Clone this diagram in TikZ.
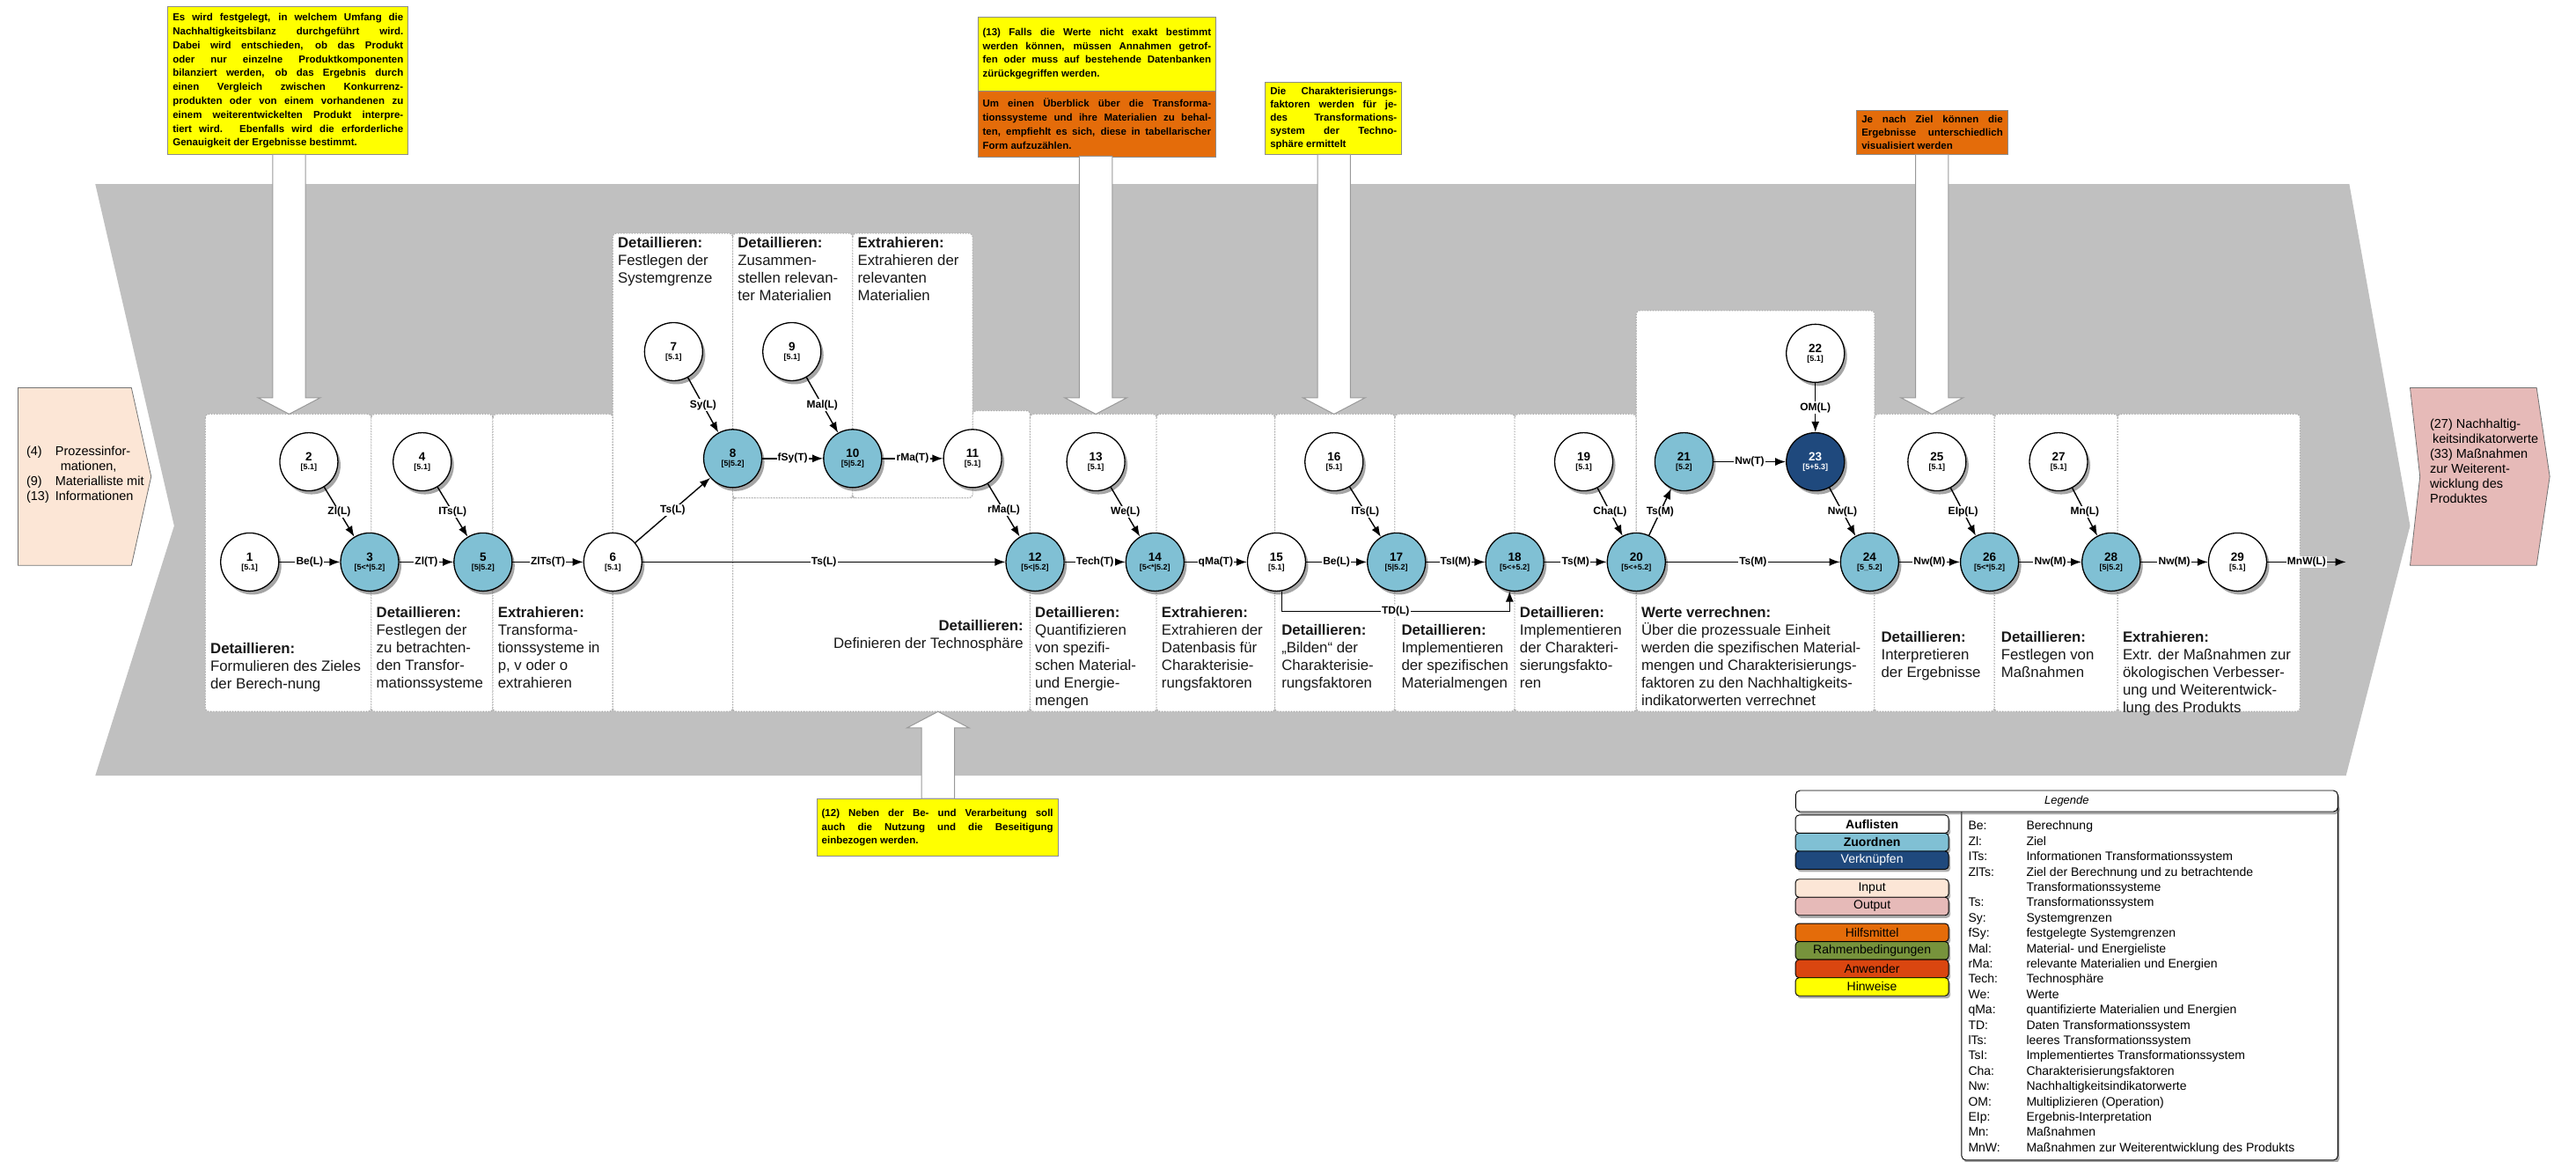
\documentclass[tikz,border=0pt]{standalone}
\usepackage{fontspec}
\setmainfont{Liberation Sans}
\usetikzlibrary{shadows,arrows.meta,calc}
\definecolor{lblue}{RGB}{128,192,212}
\definecolor{dblue}{RGB}{31,73,125}
\definecolor{peach}{RGB}{252,230,214}
\definecolor{pinkout}{RGB}{230,186,184}
\definecolor{orng}{RGB}{228,108,10}
\definecolor{grn}{RGB}{119,147,60}
\definecolor{redor}{RGB}{218,70,16}
\definecolor{yel}{RGB}{255,255,0}
\definecolor{band}{RGB}{192,192,192}
\newcommand{\nd}[2]{#1\\[-3pt]{\fontsize{9}{9}\selectfont #2}}
\begin{document}
\begin{tikzpicture}[x=1.8667pt,y=-1.8667pt,
  wn/.style={circle,draw=black,line width=1.3pt,fill=white,minimum size=66pt,inner sep=0pt,align=center,
    drop shadow={shadow xshift=3pt,shadow yshift=-4pt,fill=black!70},
    font=\fontsize{13.5}{13}\selectfont\bfseries},
  bn/.style={wn,fill=lblue},
  dn/.style={wn,fill=dblue,text=white},
  lbl/.style={fill=white,inner sep=1.2pt,font=\fontsize{12}{12}\selectfont\bfseries},
  arr/.style={-{Latex[length=12pt,width=9pt]},line width=1.4pt},
  col/.style={draw=black!35,dotted,line width=1.1pt,fill=white,rounded corners=4pt},
  desc/.style={anchor=north west,align=left,inner sep=0pt,font=\fontsize{16.8}{20}\selectfont,text=black!90},
  note/.style={draw=black!45,line width=0.8pt,inner xsep=5.5pt,inner ysep=3pt,align=justify,anchor=north west,
    font=\fontsize{11.5}{15.8}\selectfont\bfseries,execute at begin node={\tolerance=10000\hyphenpenalty=10000}},
  warr/.style={fill=white,draw=black!40,line width=1pt},
  btn/.style={draw=black,line width=0.9pt,rounded corners=4pt,minimum width=174pt,minimum height=20.5pt,inner sep=0pt,
    font=\fontsize{14}{14}\selectfont,drop shadow={shadow xshift=2pt,shadow yshift=-3pt,fill=black!65}},
]
\useasboundingbox (0,0) rectangle (1568,707);

% grey process band
\fill[band] (58,112) -- (1430,112) -- (1467,320) -- (1428,472) -- (58,472) -- (106,320) -- cycle;

% input / output
\draw[fill=peach,draw=black!55,line width=0.8pt] (11,236) -- (80,236) -- (92,290) -- (80,344) -- (11,344) -- cycle;
\node[anchor=north west,inner sep=0pt,font=\fontsize{14.5}{17}\selectfont,align=left] (intext) at (16,271)
 {\begin{tabular}{@{}l@{\hspace{7pt}}l@{}}(4)&Prozessinfor-\\&\hspace{6pt}mationen,\\(9)&Materialliste mit\\(13)&Informationen\end{tabular}};
\draw[fill=pinkout,draw=black!55,line width=0.8pt] (1467,236) -- (1544,236) -- (1552,290) -- (1544,344) -- (1467,344) -- (1473,290) -- cycle;
\node[anchor=north west,inner sep=0pt,font=\fontsize{14.5}{17}\selectfont,align=left] (outtext) at (1479,255)
 {(27) Nachhaltig-\\\hspace{3pt}keitsindikatorwerte\\(33) Maßnahmen\\zur Weiterent-\\wicklung des\\Produktes};

% columns
\draw[col] (446,303) -- (592,303) -- (592,250) -- (627,250) -- (627,433) -- (446,433) -- cycle;
\draw[col] (125,252) rectangle (226,433);
\draw[col] (226,252) rectangle (300,433);
\draw[col] (300,252) rectangle (373,433);
\draw[col] (373,142) rectangle (446,433);
\draw[col] (446,142) rectangle (519,303);
\draw[col] (519,142) rectangle (592,303);
\draw[col] (627,252) rectangle (704,433);
\draw[col] (704,252) rectangle (776,433);
\draw[col] (776,252) rectangle (849,433);
\draw[col] (849,252) rectangle (922,433);
\draw[col] (922,252) rectangle (996,433);
\draw[col] (996,189) rectangle (1141,433);
\draw[col] (1141,252) rectangle (1214,433);
\draw[col] (1214,252) rectangle (1289,433);
\draw[col] (1289,252) rectangle (1400,433);

% column descriptions
\node[desc] (dA) at (128,391) {\textbf{Detaillieren:}\\Formulieren des Zieles\\der Berech-nung};
\node[desc] (dB) at (229,369) {\textbf{Detaillieren:}\\Festlegen der\\zu betrachten-\\den Transfor-\\mationssysteme};
\node[desc] (dC) at (303,369) {\textbf{Extrahieren:}\\Transforma-\\tionssysteme in\\p, v oder o\\extrahieren};
\node[desc] (dD) at (376,144) {\textbf{Detaillieren:}\\Festlegen der\\Systemgrenze};
\node[desc] (dE) at (449,144) {\textbf{Detaillieren:}\\Zusammen-\\stellen relevan-\\ter Materialien};
\node[desc] (dF) at (522,144) {\textbf{Extrahieren:}\\Extrahieren der\\relevanten\\Materialien};
\node[desc,anchor=north east,align=right] (dG) at (623,377) {\textbf{Detaillieren:}\\Definieren der Technosphäre};
\node[desc] (dH) at (630,369) {\textbf{Detaillieren:}\\Quantifizieren\\von spezifi-\\schen Material-\\und Energie-\\mengen};
\node[desc] (dI) at (707,369) {\textbf{Extrahieren:}\\Extrahieren der\\Datenbasis für\\Charakterisie-\\rungsfaktoren};
\node[desc] (dJ) at (780,380) {\textbf{Detaillieren:}\\„Bilden“ der\\Charakterisie-\\rungsfaktoren};
\node[desc] (dK) at (853,380) {\textbf{Detaillieren:}\\Implementieren\\der spezifischen\\Materialmengen};
\node[desc] (dL) at (925,369) {\textbf{Detaillieren:}\\Implementieren\\der Charakteri-\\sierungsfakto-\\ren};
\node[desc] (dM) at (999,369) {\textbf{Werte verrechnen:}\\Über die prozessuale Einheit\\werden die spezifischen Material-\\mengen und Charakterisierungs-\\faktoren zu den Nachhaltigkeits-\\indikatorwerten verrechnet};
\node[desc] (dN) at (1145,384) {\textbf{Detaillieren:}\\Interpretieren\\der Ergebnisse};
\node[desc] (dO) at (1218,384) {\textbf{Detaillieren:}\\Festlegen von\\Maßnahmen};
\node[desc] (dP) at (1292,384) {\textbf{Extrahieren:}\\Extr. der Maßnahmen zur\\ökologischen Verbesser-\\ung und Weiterentwick-\\lung des Produkts};

% notes
\node[note,fill=yel,text width=262pt,minimum height=168pt] (noteA) at (102,4)
 {Es wird festgelegt, in welchem Umfang die\linebreak Nachhaltigkeitsbilanz durchgeführt wird.\linebreak Dabei wird entschieden, ob das Produkt\linebreak oder nur einzelne Produktkomponenten\linebreak bilanziert werden, ob das Ergebnis durch\linebreak einen Vergleich zwischen Konkurrenz-\linebreak produkten oder von einem vorhandenen zu\linebreak einem weiterentwickelten Produkt interpre-\linebreak tiert wird. Ebenfalls wird die erforderliche\linebreak Genauigkeit der Ergebnisse bestimmt.};
\node[note,fill=yel,text width=259.5pt,minimum height=84pt] (noteB1) at (595,10)
 {(13) Falls die Werte nicht exakt bestimmt\linebreak werden können, müssen Annahmen getrof-\linebreak fen oder muss auf bestehende Datenbanken\linebreak zürückgegriffen werden.};
\node[note,fill=orng,text width=259.5pt,minimum height=75pt] (noteB2) at (595,55)
 {Um einen Überblick über die Transforma-\linebreak tionssysteme und ihre Materialien zu behal-\linebreak ten, empfiehlt es sich, diese in tabellarischer\linebreak Form aufzuzählen.};
\node[note,fill=yel,text width=144pt,minimum height=82pt,font=\fontsize{11.5}{15}\selectfont\bfseries] (noteC) at (770,50)
 {Die Charakterisierungs-\linebreak faktoren werden für je-\linebreak des Transformations-\linebreak system der Techno-\linebreak sphäre ermittelt};
\node[note,fill=orng,text width=160.5pt,minimum height=50pt,inner ysep=1.5pt,font=\fontsize{11.5}{15}\selectfont\bfseries] (noteD) at (1130,67)
 {Je nach Ziel können die\linebreak Ergebnisse unterschiedlich\linebreak visualisiert werden};
\node[note,fill=yel,text width=263pt,minimum height=65pt] (noteE) at (497,486)
 {(12) Neben der Be- und Verarbeitung soll\linebreak auch die Nutzung und die Beseitigung\linebreak einbezogen werden.};

% white hint arrows
\draw[warr] (166,94) -- (186,94) -- (186,242) -- (195,242) -- (176,252) -- (157,242) -- (166,242) -- cycle;
\draw[warr] (657,95) -- (677,95) -- (677,242) -- (686,242) -- (667,252) -- (648,242) -- (657,242) -- cycle;
\draw[warr] (802,94) -- (822,94) -- (822,242) -- (831,242) -- (812,252) -- (793,242) -- (802,242) -- cycle;
\draw[warr] (1166,94) -- (1186,94) -- (1186,242) -- (1195,242) -- (1176,252) -- (1157,242) -- (1166,242) -- cycle;
\draw[warr] (561,486) -- (581,486) -- (581,443) -- (590,443) -- (571,433) -- (552,443) -- (561,443) -- cycle;

% nodes
\node[wn] (n1) at (152,342) {\nd{1}{[5.1]}};
\node[wn] (n2) at (188,281) {\nd{2}{[5.1]}};
\node[bn] (n3) at (225,342) {\nd{3}{[5<*|5.2]}};
\node[wn] (n4) at (257,281) {\nd{4}{[5.1]}};
\node[bn] (n5) at (294,342) {\nd{5}{[5|5.2]}};
\node[wn] (n6) at (373,342) {\nd{6}{[5.1]}};
\node[wn] (n7) at (410,214) {\nd{7}{[5.1]}};
\node[bn] (n8) at (446,279) {\nd{8}{[5|5.2]}};
\node[wn] (n9) at (482,214) {\nd{9}{[5.1]}};
\node[bn] (n10) at (519,279) {\nd{10}{[5|5.2]}};
\node[wn] (n11) at (592,279) {\nd{11}{[5.1]}};
\node[bn] (n12) at (630,342) {\nd{12}{[5<|5.2]}};
\node[wn] (n13) at (667,281) {\nd{13}{[5.1]}};
\node[bn] (n14) at (703,342) {\nd{14}{[5<*|5.2]}};
\node[wn] (n15) at (777,342) {\nd{15}{[5.1]}};
\node[wn] (n16) at (812,281) {\nd{16}{[5.1]}};
\node[bn] (n17) at (850,342) {\nd{17}{[5|5.2]}};
\node[bn] (n18) at (922,342) {\nd{18}{[5<+5.2]}};
\node[wn] (n19) at (964,281) {\nd{19}{[5.1]}};
\node[bn] (n20) at (996,342) {\nd{20}{[5<+5.2]}};
\node[bn] (n21) at (1025,281) {\nd{21}{[5.2]}};
\node[wn] (n22) at (1105,215) {\nd{22}{[5.1]}};
\node[dn] (n23) at (1105,281) {\nd{23}{[5+5.3]}};
\node[bn] (n24) at (1138,342) {\nd{24}{[5\_5.2]}};
\node[wn] (n25) at (1179,281) {\nd{25}{[5.1]}};
\node[bn] (n26) at (1211,342) {\nd{26}{[5<*|5.2]}};
\node[wn] (n27) at (1253,281) {\nd{27}{[5.1]}};
\node[bn] (n28) at (1285,342) {\nd{28}{[5|5.2]}};
\node[wn] (n29) at (1362,342) {\nd{29}{[5.1]}};
\coordinate (endc) at (1428,342);
\coordinate (tdy) at (0,372);

% connectors
\draw[arr] (n1) -- node[lbl]{Be(L)} (n3);
\draw[arr] (n2) -- node[lbl]{Zl(L)} (n3);
\draw[arr] (n3) -- node[lbl]{Zl(T)} (n5);
\draw[arr] (n4) -- node[lbl]{ITs(L)} (n5);
\draw[arr] (n5) -- node[lbl]{ZlTs(T)} (n6);
\draw[arr] (n6) -- node[lbl]{Ts(L)} (n8);
\draw[arr] (n7) -- node[lbl]{Sy(L)} (n8);
\draw[arr] (n8) -- node[lbl]{fSy(T)} (n10);
\draw[arr] (n9) -- node[lbl]{Mal(L)} (n10);
\draw[arr] (n10) -- node[lbl]{rMa(T)} (n11);
\draw[arr] (n11) -- node[lbl]{rMa(L)} (n12);
\draw[arr] (n6) -- node[lbl]{Ts(L)} (n12);
\draw[arr] (n12) -- node[lbl]{Tech(T)} (n14);
\draw[arr] (n13) -- node[lbl]{We(L)} (n14);
\draw[arr] (n14) -- node[lbl]{qMa(T)} (n15);
\draw[arr] (n15) -- node[lbl]{Be(L)} (n17);
\draw[arr] (n16) -- node[lbl]{lTs(L)} (n17);
\draw[arr] (n17) -- node[lbl]{TsI(M)} (n18);
\draw[arr] (n15.-80) |- node[lbl,pos=0.75]{TD(L)} (n18.-100 |- tdy) -- (n18.-100);
\draw[arr] (n18) -- node[lbl]{Ts(M)} (n20);
\draw[arr] (n19) -- node[lbl]{Cha(L)} (n20);
\draw[arr] (n20) -- node[lbl]{Ts(M)} (n21);
\draw[arr] (n21) -- node[lbl]{Nw(T)} (n23);
\draw[arr] (n22) -- node[lbl]{OM(L)} (n23);
\draw[arr] (n23) -- node[lbl]{Nw(L)} (n24);
\draw[arr] (n20) -- node[lbl]{Ts(M)} (n24);
\draw[arr] (n24) -- node[lbl]{Nw(M)} (n26);
\draw[arr] (n25) -- node[lbl]{EIp(L)} (n26);
\draw[arr] (n26) -- node[lbl]{Nw(M)} (n28);
\draw[arr] (n27) -- node[lbl]{Mn(L)} (n28);
\draw[arr] (n28) -- node[lbl]{Nw(M)} (n29);
\draw[arr] (n29) -- node[lbl]{MnW(L)} (endc);

% legend
\draw[line width=0.9pt,fill=white,rounded corners=5pt,drop shadow={shadow xshift=2pt,shadow yshift=-3pt,fill=black!65}]
  (1194,488) -- (1194,706) -- (1423,706) -- (1423,488) -- cycle;
\node[draw=black,line width=0.9pt,rounded corners=5pt,fill=white,minimum width=616pt,minimum height=24pt,inner sep=0pt,
  font=\fontsize{13}{13}\selectfont\itshape,drop shadow={shadow xshift=2pt,shadow yshift=-3pt,fill=black!65}] (leghead) at (1258,487.5) {Legende};
\node[btn,fill=white,font=\fontsize{14}{14}\selectfont\bfseries] (b1) at (1139.5,501.5) {Auflisten};
\node[btn,fill=lblue,font=\fontsize{14}{14}\selectfont\bfseries] (b2) at (1139.5,512.5) {Zuordnen};
\node[btn,fill=dblue,text=white] (b3) at (1139.5,523.5) {Verknüpfen};
\node[btn,fill=peach] (b4) at (1139.5,540.5) {Input};
\node[btn,fill=pinkout] (b5) at (1139.5,551.5) {Output};
\node[btn,fill=orng] (b6) at (1139.5,567.5) {Hilfsmittel};
\node[btn,fill=grn] (b7) at (1139.5,578.5) {Rahmenbedingungen};
\node[btn,fill=redor] (b8) at (1139.5,589.5) {Anwender};
\node[btn,fill=yel] (b9) at (1139.5,600.5) {Hinweise};
\node[anchor=north west,inner sep=0pt,font=\fontsize{14}{17.4}\selectfont,align=left] (legtab) at (1198,498.5)
 {\begin{tabular}{@{}p{66pt}@{}l@{}}
 Be:&Berechnung\\
 Zl:&Ziel\\
 ITs:&Informationen Transformationssystem\\
 ZlTs:&Ziel der Berechnung und zu betrachtende\\
 &Transformationssysteme\\
 Ts:&Transformationssystem\\
 Sy:&Systemgrenzen\\
 fSy:&festgelegte Systemgrenzen\\
 Mal:&Material- und Energieliste\\
 rMa:&relevante Materialien und Energien\\
 Tech:&Technosphäre\\
 We:&Werte\\
 qMa:&quantifizierte Materialien und Energien\\
 TD:&Daten Transformationssystem\\
 lTs:&leeres Transformationssystem\\
 TsI:&Implementiertes Transformationssystem\\
 Cha:&Charakterisierungsfaktoren\\
 Nw:&Nachhaltigkeitsindikatorwerte\\
 OM:&Multiplizieren (Operation)\\
 EIp:&Ergebnis-Interpretation\\
 Mn:&Maßnahmen\\
 MnW:&Maßnahmen zur Weiterentwicklung des Produkts
 \end{tabular}};
\end{tikzpicture}
\end{document}
